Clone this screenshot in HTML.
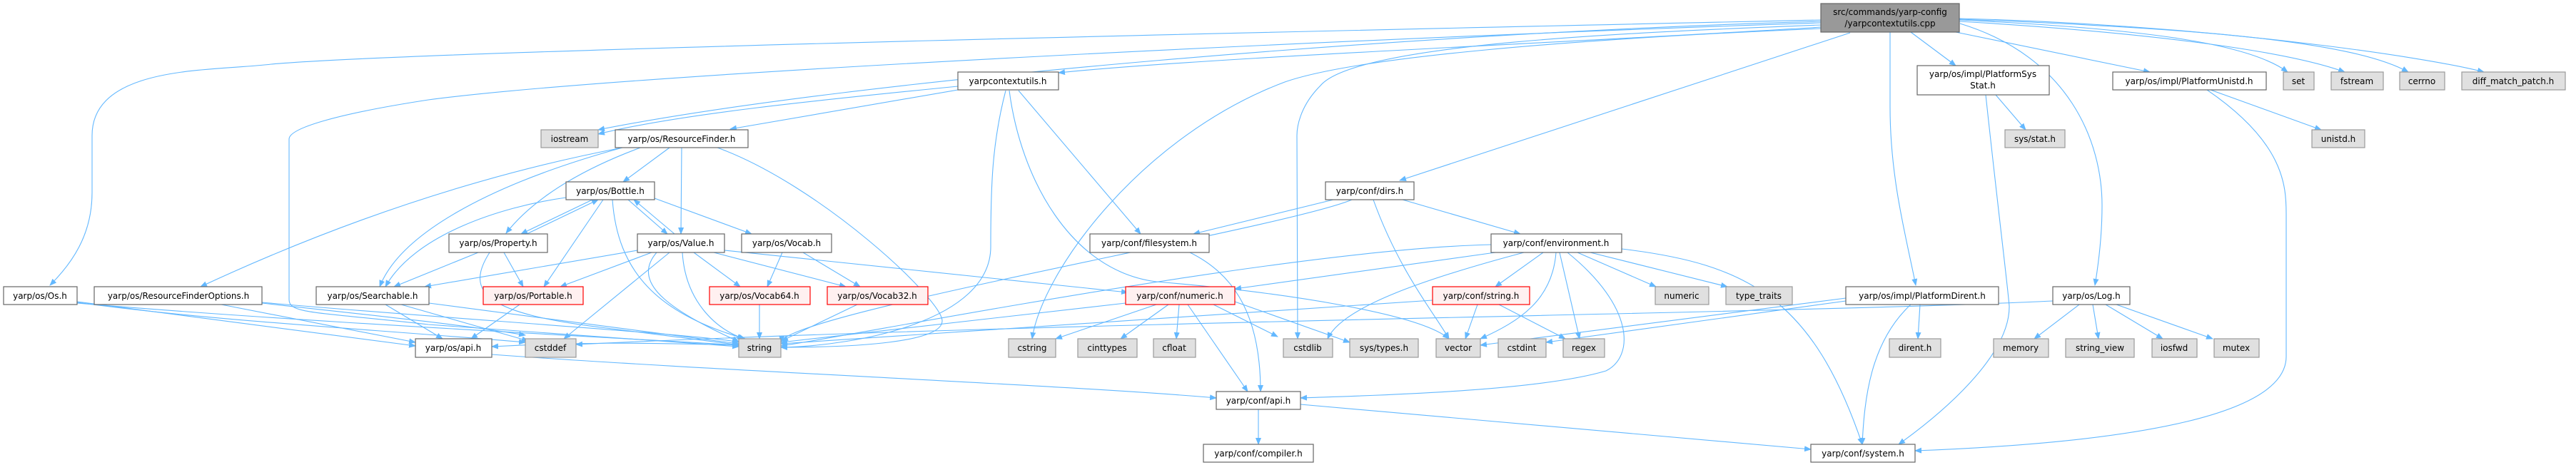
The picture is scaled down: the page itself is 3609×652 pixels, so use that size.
<!DOCTYPE html>
<html><head><meta charset="utf-8"><style>
html,body{margin:0;padding:0;background:#fff;}
svg{display:block;}
text{font-family:"DejaVu Sans","Liberation Sans",sans-serif;font-size:12px;fill:#000;}
.e{fill:none;stroke:#63b8ff;stroke-width:1.1;marker-end:url(#a);}
.w{fill:#fff;stroke:#666;stroke-width:1.2;}
.g{fill:#e0e0e0;stroke:#999;stroke-width:1.2;}
.r{fill:#fff0f0;stroke:#f00;stroke-width:1.2;}
.s{fill:#999;stroke:#666;stroke-width:1.2;}
</style></head><body>
<svg width="3609" height="652" viewBox="0 0 3609 652" xmlns="http://www.w3.org/2000/svg">
<defs><marker id="a" markerWidth="10" markerHeight="8" refX="9" refY="4" orient="auto" markerUnits="userSpaceOnUse"><path d="M0,0 L10,4 L0,8 z" fill="#63b8ff"/></marker></defs>
<g>
<path class="e" d="M2551,28 C2000,40 600,70 380,90 C300,100 129,90 129,190 L129,270 C129,330 100,370 70,400"/>
<path class="e" d="M2551,32 C2000,50 900,100 600,140 C470,160 405,180 405,195 L405,420 C405,440 440,437 600,455 L1035,486"/>
<path class="e" d="M2551,38 C2200,60 1700,80 1483,102"/>
<path class="e" d="M2551,30 C2000,45 1200,110 838,182"/>
<path class="e" d="M2551,40 C2200,55 1900,80 1800,115 C1600,190 1460,380 1446,475"/>
<path class="e" d="M2551,35 C2300,45 1900,60 1850,120 C1820,150 1817,180 1817,190 L1818,475"/>
<path class="e" d="M2592,46 L1961,253"/>
<path class="e" d="M2677,45 L2740,92"/>
<path class="e" d="M2648,45 L2648,150 C2648,250 2670,330 2684,400"/>
<path class="e" d="M2740,45 L3012,101"/>
<path class="e" d="M2746,33 C2900,80 2945,200 2945,288 C2945,330 2940,370 2935,400"/>
<path class="e" d="M2745,28 C3000,40 3150,60 3205,101"/>
<path class="e" d="M2745,30 C3000,45 3200,70 3285,101"/>
<path class="e" d="M2745,27 C3100,40 3300,60 3374,101"/>
<path class="e" d="M2745,26 C3100,35 3400,80 3480,101"/>
<path class="e" d="M1342,121 C1150,140 950,160 838,188"/>
<path class="e" d="M1342,126 L1023,181"/>
<path class="e" d="M1409,127 C1390,200 1388,260 1388,346 C1388,450 1200,485 1094,487"/>
<path class="e" d="M1427,127 L1598,328"/>
<path class="e" d="M1414,127 C1430,250 1500,380 1620,395 C1800,410 1990,440 2030,475"/>
<path class="e" d="M938,207 L873,255"/>
<path class="e" d="M955,207 L954,328"/>
<path class="e" d="M900,206 C780,250 730,300 709,327"/>
<path class="e" d="M872,207 C680,260 560,330 532,402"/>
<path class="e" d="M872,207 C700,240 500,300 281,402"/>
<path class="e" d="M1005,207 C1150,260 1320,420 1320,450 C1320,480 1200,487 1094,487"/>
<path class="e" d="M830,280 L730,328"/>
<path class="e" d="M738,328 L838,280"/>
<path class="e" d="M880,280 L935,328"/>
<path class="e" d="M945,328 L888,280"/>
<path class="e" d="M793,277 C700,290 580,330 540,402"/>
<path class="e" d="M845,280 L762,402"/>
<path class="e" d="M917,278 L1053,328"/>
<path class="e" d="M858,280 C865,380 920,440 1044,475"/>
<path class="e" d="M670,354 L552,402"/>
<path class="e" d="M706,354 L733,402"/>
<path class="e" d="M686,354 C650,410 680,440 850,460 L1038,484"/>
<path class="e" d="M893,351 L595,402"/>
<path class="e" d="M913,354 L785,402"/>
<path class="e" d="M938,354 L790,475"/>
<path class="e" d="M956,354 C960,420 1000,460 1042,475"/>
<path class="e" d="M972,354 L1037,402"/>
<path class="e" d="M1000,354 L1185,402"/>
<path class="e" d="M1015,351 L1580,410"/>
<path class="e" d="M920,354 C880,400 950,440 1035,479"/>
<path class="e" d="M1096,354 L1075,402"/>
<path class="e" d="M1125,354 L1205,402"/>
<path class="e" d="M1064,427 L1064,475"/>
<path class="e" d="M1201,427 L1095,478"/>
<path class="e" d="M1667,354 C1720,380 1766,430 1766,549"/>
<path class="e" d="M1868,280 L1672,328"/>
<path class="e" d="M1965,280 L2130,328"/>
<path class="e" d="M1924,280 C1960,380 2010,440 2030,475"/>
<path class="e" d="M1894,280 C1800,320 1100,440 1094,480"/>
<path class="e" d="M2095,354 L1730,405"/>
<path class="e" d="M2162,354 L2095,402"/>
<path class="e" d="M2135,354 C2000,390 1880,430 1860,475"/>
<path class="e" d="M2180,354 C2175,420 2130,450 2074,475"/>
<path class="e" d="M2185,354 L2213,475"/>
<path class="e" d="M2210,354 L2320,402"/>
<path class="e" d="M2228,354 L2420,402"/>
<path class="e" d="M2272,349 C2450,370 2540,420 2609,623"/>
<path class="e" d="M2196,354 C2290,430 2290,500 2250,520 C2150,550 1900,555 1822,558"/>
<path class="e" d="M2089,343 C1800,350 1200,470 1094,485"/>
<path class="e" d="M2070,427 L2053,475"/>
<path class="e" d="M2100,427 L2193,475"/>
<path class="e" d="M2007,421 L1094,482"/>
<path class="e" d="M1577,425 L1094,480"/>
<path class="e" d="M1620,427 L1479,475"/>
<path class="e" d="M1637,427 L1570,475"/>
<path class="e" d="M1652,427 L1648,475"/>
<path class="e" d="M1664,427 L1748,549"/>
<path class="e" d="M1700,427 L1790,472"/>
<path class="e" d="M1730,423 L1891,480"/>
<path class="e" d="M689,497 C1000,520 1500,540 1704,558"/>
<path class="e" d="M1763,574 L1763,623"/>
<path class="e" d="M1822,567 L2537,630"/>
<path class="e" d="M2796,133 L2838,182"/>
<path class="e" d="M2782,133 C2800,300 2815,420 2815,430 C2815,500 2720,580 2660,623"/>
<path class="e" d="M3097,126 L3252,182"/>
<path class="e" d="M3092,126 C3200,200 3203,260 3203,300 L3203,500 C3203,580 3000,620 2683,632"/>
<path class="e" d="M2690,427 L2687,475"/>
<path class="e" d="M2677,427 C2620,480 2612,560 2609,623"/>
<path class="e" d="M2586,418 L2074,484"/>
<path class="e" d="M2586,422 L2166,480"/>
<path class="e" d="M2876,422 C2500,440 1500,450 807,483"/>
<path class="e" d="M2913,427 L2850,475"/>
<path class="e" d="M2932,427 L2940,475"/>
<path class="e" d="M2950,427 L3030,475"/>
<path class="e" d="M2965,427 L3100,475"/>
<path class="e" d="M108,423 L582,485"/>
<path class="e" d="M108,424 C300,450 500,460 736,480"/>
<path class="e" d="M108,425 C400,450 800,470 1035,484"/>
<path class="e" d="M310,427 L582,480"/>
<path class="e" d="M367,424 C600,445 1000,470 1035,480"/>
<path class="e" d="M367,425 C500,440 650,455 736,470"/>
<path class="e" d="M540,427 L620,475"/>
<path class="e" d="M562,427 L740,478"/>
<path class="e" d="M601,425 L1035,482"/>
<path class="e" d="M728,427 L660,475"/>
<path class="e" d="M1035,484 C900,480 800,480 689,486"/>
</g>
<g>
<rect class="s" x="2551" y="5" width="194" height="40"/>
<text x="2648" y="21" text-anchor="middle">src/commands/yarp-config</text>
<text x="2648" y="37" text-anchor="middle">/yarpcontextutils.cpp</text>
<rect class="w" x="1342" y="101" width="141" height="25"/><text x="1412" y="118" text-anchor="middle">yarpcontextutils.h</text>
<rect class="w" x="2686" y="92" width="185" height="41"/><text x="2778" y="108" text-anchor="middle">yarp/os/impl/PlatformSys</text><text x="2778" y="124" text-anchor="middle">Stat.h</text>
<rect class="w" x="2960" y="101" width="215" height="25"/><text x="3067" y="118" text-anchor="middle">yarp/os/impl/PlatformUnistd.h</text>
<rect class="g" x="3199" y="101" width="43" height="25"/><text x="3220" y="118" text-anchor="middle">set</text>
<rect class="g" x="3266" y="101" width="73" height="25"/><text x="3302" y="118" text-anchor="middle">fstream</text>
<rect class="g" x="3362" y="101" width="63" height="25"/><text x="3393" y="118" text-anchor="middle">cerrno</text>
<rect class="g" x="3449" y="101" width="145" height="25"/><text x="3521" y="118" text-anchor="middle">diff_match_patch.h</text>
<rect class="g" x="758" y="182" width="80" height="25"/><text x="798" y="199" text-anchor="middle">iostream</text>
<rect class="w" x="862" y="182" width="186" height="25"/><text x="955" y="199" text-anchor="middle">yarp/os/ResourceFinder.h</text>
<rect class="g" x="2809" y="182" width="84" height="25"/><text x="2851" y="199" text-anchor="middle">sys/stat.h</text>
<rect class="g" x="3239" y="182" width="74" height="25"/><text x="3276" y="199" text-anchor="middle">unistd.h</text>
<rect class="w" x="793" y="255" width="124" height="25"/><text x="855" y="272" text-anchor="middle">yarp/os/Bottle.h</text>
<rect class="w" x="1857" y="255" width="124" height="25"/><text x="1919" y="272" text-anchor="middle">yarp/conf/dirs.h</text>
<rect class="w" x="629" y="328" width="138" height="26"/><text x="698" y="345" text-anchor="middle">yarp/os/Property.h</text>
<rect class="w" x="893" y="328" width="122" height="26"/><text x="954" y="345" text-anchor="middle">yarp/os/Value.h</text>
<rect class="w" x="1039" y="328" width="126" height="26"/><text x="1102" y="345" text-anchor="middle">yarp/os/Vocab.h</text>
<rect class="w" x="1527" y="328" width="167" height="26"/><text x="1610" y="345" text-anchor="middle">yarp/conf/filesystem.h</text>
<rect class="w" x="2089" y="328" width="183" height="26"/><text x="2180" y="345" text-anchor="middle">yarp/conf/environment.h</text>
<rect class="w" x="5" y="402" width="103" height="25"/><text x="56" y="419" text-anchor="middle">yarp/os/Os.h</text>
<rect class="w" x="132" y="402" width="235" height="25"/><text x="250" y="419" text-anchor="middle">yarp/os/ResourceFinderOptions.h</text>
<rect class="w" x="443" y="402" width="158" height="25"/><text x="522" y="419" text-anchor="middle">yarp/os/Searchable.h</text>
<rect class="r" x="677" y="402" width="140" height="25"/><text x="747" y="419" text-anchor="middle">yarp/os/Portable.h</text>
<rect class="r" x="994" y="402" width="141" height="25"/><text x="1064" y="419" text-anchor="middle">yarp/os/Vocab64.h</text>
<rect class="r" x="1159" y="402" width="141" height="25"/><text x="1229" y="419" text-anchor="middle">yarp/os/Vocab32.h</text>
<rect class="r" x="1577" y="402" width="153" height="25"/><text x="1653" y="419" text-anchor="middle">yarp/conf/numeric.h</text>
<rect class="r" x="2007" y="402" width="136" height="25"/><text x="2075" y="419" text-anchor="middle">yarp/conf/string.h</text>
<rect class="g" x="2319" y="402" width="75" height="25"/><text x="2356" y="419" text-anchor="middle">numeric</text>
<rect class="g" x="2418" y="402" width="93" height="25"/><text x="2464" y="419" text-anchor="middle">type_traits</text>
<rect class="w" x="2586" y="402" width="214" height="25"/><text x="2693" y="419" text-anchor="middle">yarp/os/impl/PlatformDirent.h</text>
<rect class="w" x="2876" y="402" width="108" height="25"/><text x="2930" y="419" text-anchor="middle">yarp/os/Log.h</text>
<rect class="w" x="582" y="475" width="107" height="26"/><text x="635" y="492" text-anchor="middle">yarp/os/api.h</text>
<rect class="g" x="736" y="475" width="71" height="26"/><text x="771" y="492" text-anchor="middle">cstddef</text>
<rect class="g" x="1035" y="475" width="59" height="26"/><text x="1064" y="492" text-anchor="middle">string</text>
<rect class="g" x="1413" y="475" width="66" height="26"/><text x="1446" y="492" text-anchor="middle">cstring</text>
<rect class="g" x="1510" y="475" width="83" height="26"/><text x="1551" y="492" text-anchor="middle">cinttypes</text>
<rect class="g" x="1616" y="475" width="59" height="26"/><text x="1645" y="492" text-anchor="middle">cfloat</text>
<rect class="g" x="1798" y="475" width="69" height="26"/><text x="1832" y="492" text-anchor="middle">cstdlib</text>
<rect class="g" x="1891" y="475" width="96" height="26"/><text x="1939" y="492" text-anchor="middle">sys/types.h</text>
<rect class="g" x="2012" y="475" width="62" height="26"/><text x="2043" y="492" text-anchor="middle">vector</text>
<rect class="g" x="2099" y="475" width="67" height="26"/><text x="2132" y="492" text-anchor="middle">cstdint</text>
<rect class="g" x="2190" y="475" width="58" height="26"/><text x="2219" y="492" text-anchor="middle">regex</text>
<rect class="g" x="2647" y="475" width="72" height="26"/><text x="2683" y="492" text-anchor="middle">dirent.h</text>
<rect class="g" x="2793" y="475" width="77" height="26"/><text x="2831" y="492" text-anchor="middle">memory</text>
<rect class="g" x="2894" y="475" width="96" height="26"/><text x="2942" y="492" text-anchor="middle">string_view</text>
<rect class="g" x="3015" y="475" width="63" height="26"/><text x="3046" y="492" text-anchor="middle">iosfwd</text>
<rect class="g" x="3102" y="475" width="63" height="26"/><text x="3133" y="492" text-anchor="middle">mutex</text>
<rect class="w" x="1704" y="549" width="118" height="25"/><text x="1763" y="566" text-anchor="middle">yarp/conf/api.h</text>
<rect class="w" x="1686" y="623" width="154" height="25"/><text x="1763" y="640" text-anchor="middle">yarp/conf/compiler.h</text>
<rect class="w" x="2537" y="623" width="146" height="25"/><text x="2610" y="640" text-anchor="middle">yarp/conf/system.h</text>
</g>
</svg>
</body></html>
